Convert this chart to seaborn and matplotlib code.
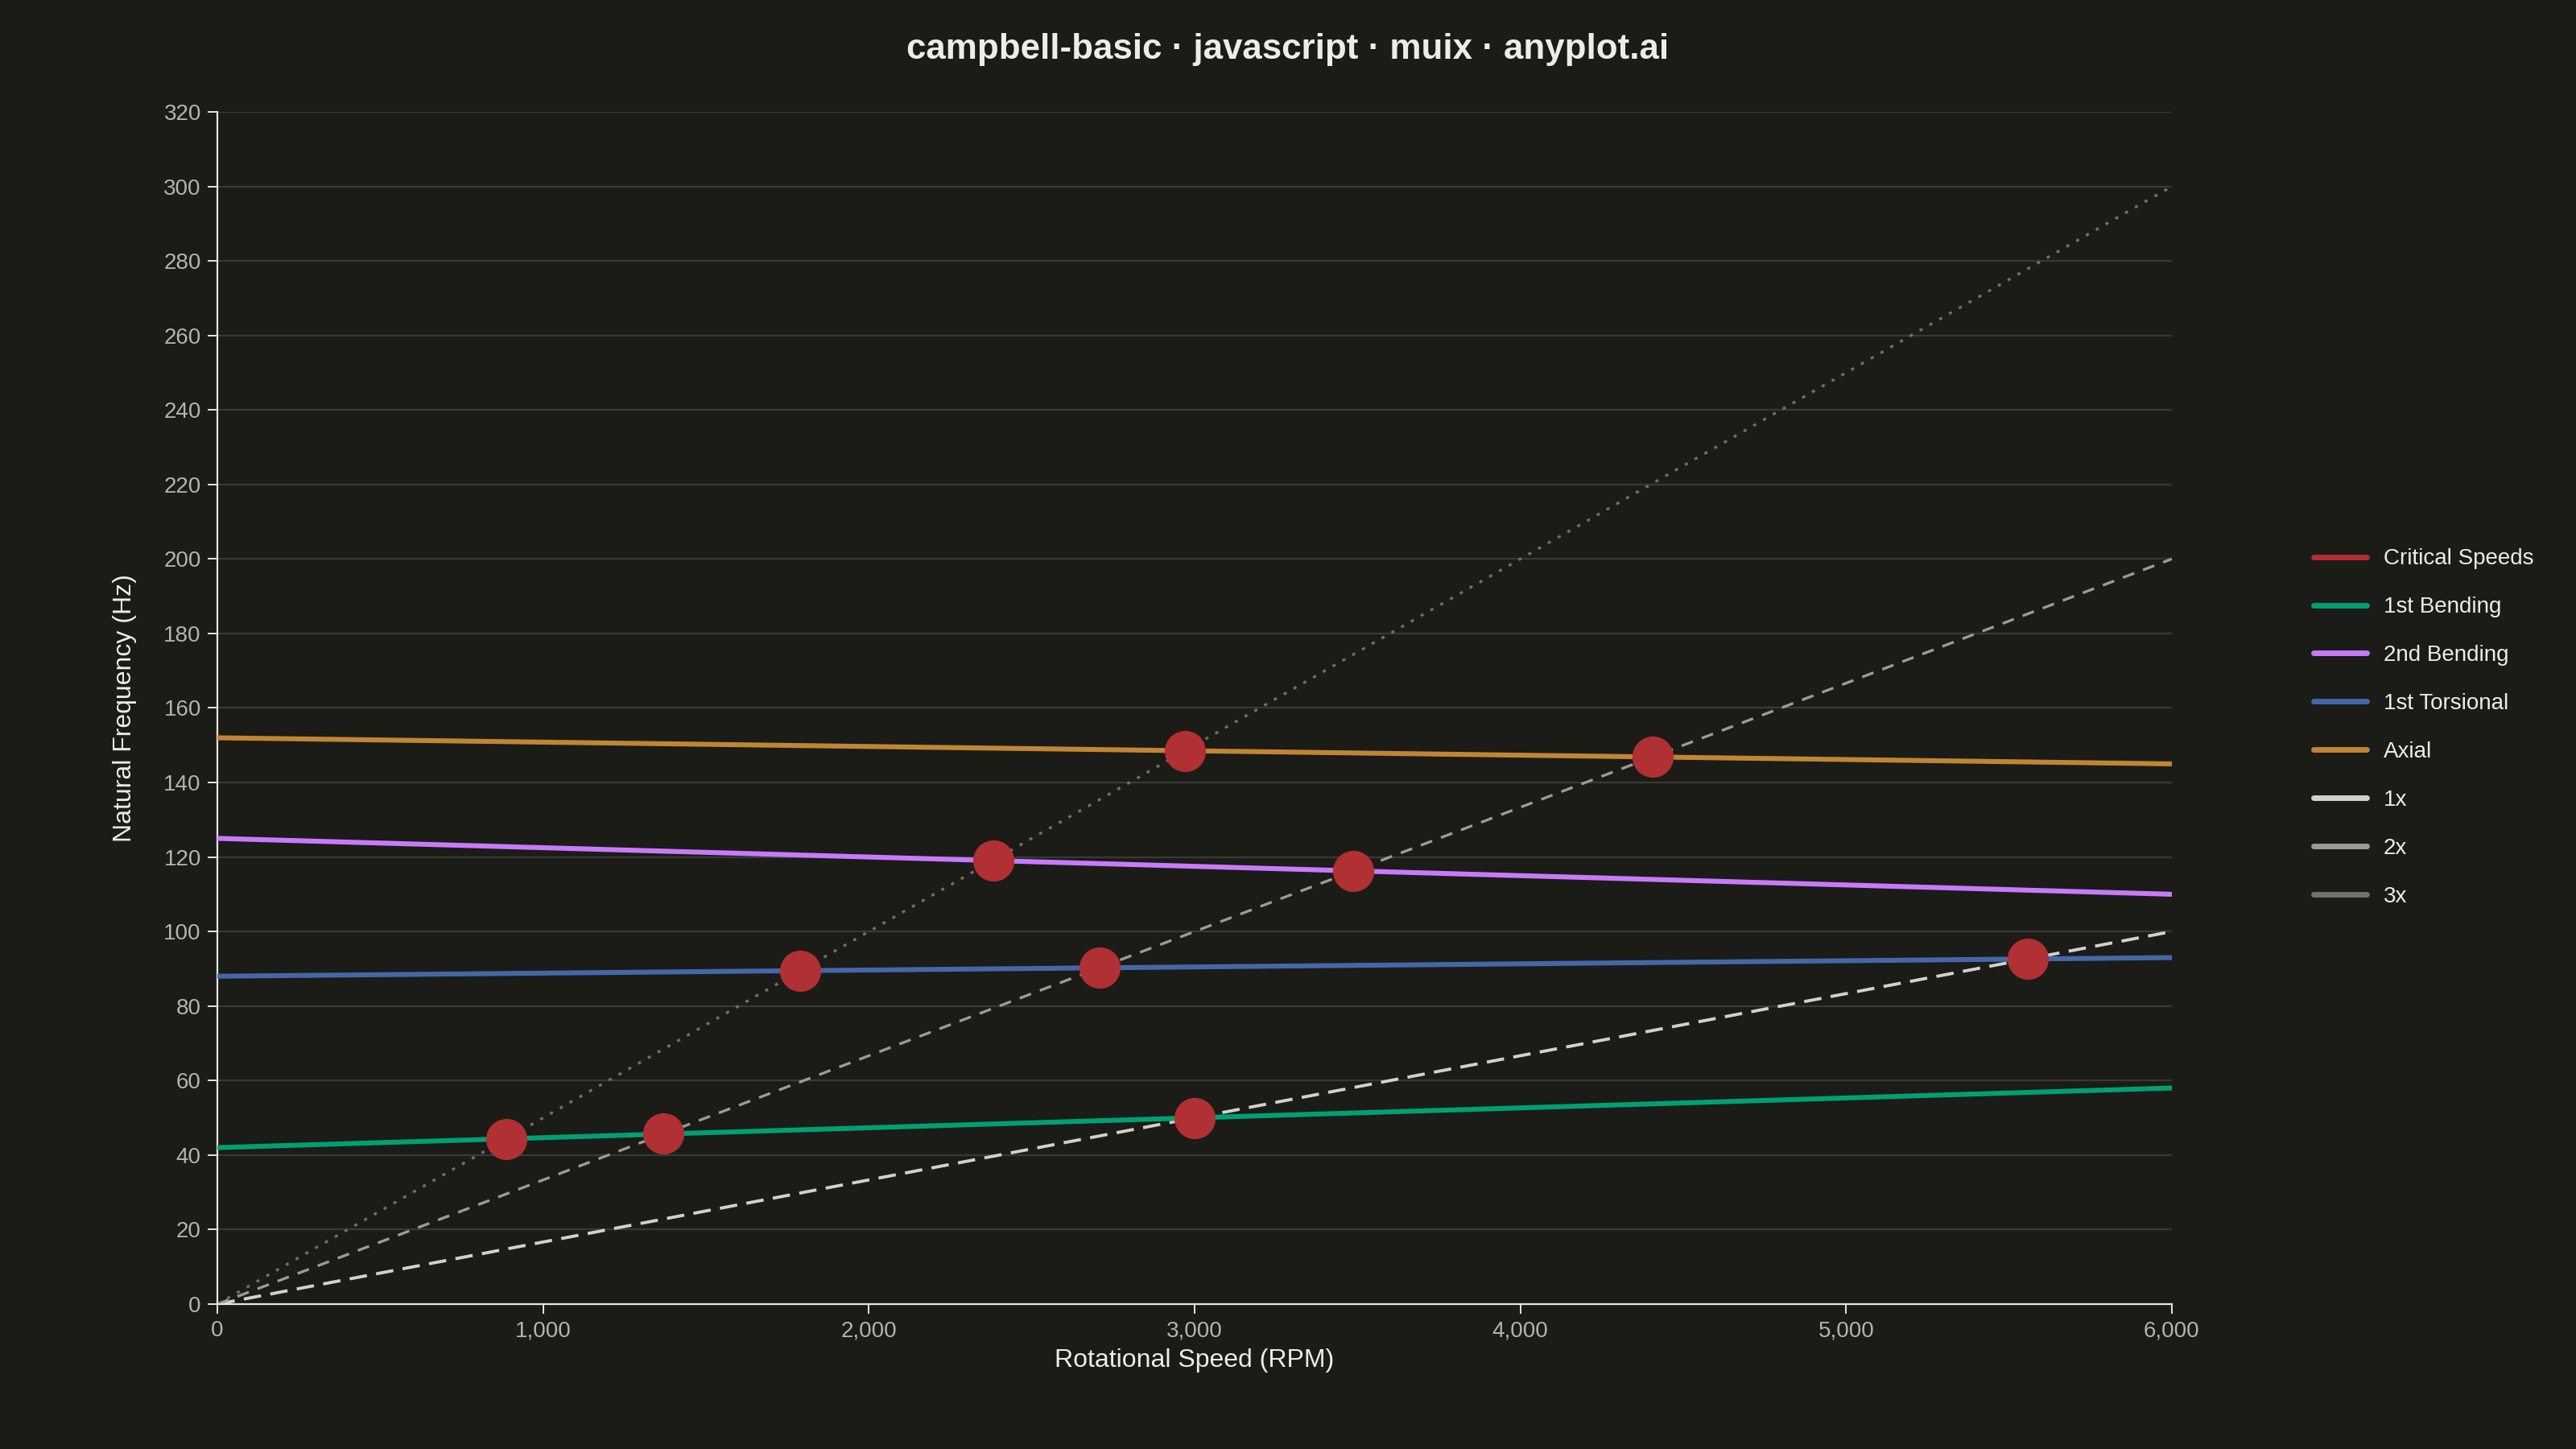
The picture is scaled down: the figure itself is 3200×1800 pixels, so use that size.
import pandas as pd
import matplotlib.pyplot as plt
import seaborn as sns
from matplotlib.lines import Line2D
from matplotlib.ticker import FuncFormatter

# natural frequency modes, read at 0 and 6000 RPM
rpm_ends = [0, 6000]
first_bending = [42, 58]
second_bending = [125, 110]
first_torsional = [88, 93]
axial = [152, 145]

# engine order lines
order_1x = [0, 100]
order_2x = [0, 200]
order_3x = [0, 300]

# critical speeds (intersections)
critical_rpm = [887, 1370, 3000, 1790, 2708, 5558, 2381, 3488, 2971, 4406]
critical_hz = [44.4, 45.7, 50.0, 89.5, 90.3, 92.6, 119.0, 116.3, 148.5, 146.9]

mode_names = ["1st Bending", "2nd Bending", "1st Torsional", "Axial"]
mode_values = [first_bending, second_bending, first_torsional, axial]
mode_colors = ["#00A074", "#C77BFA", "#4467A8", "#C08535"]
order_names = ["1x", "2x", "3x"]
order_values = [order_1x, order_2x, order_3x]
order_colors = ["#D2D2CC", "#9C9C97", "#71716C"]
critical_color = "#B03034"

BG = "#1B1B17"
GRID = "#3A3A35"
TEXT = "#EDEDE6"
TICK = "#B5B5AD"

sns.set_theme(style="dark")
plt.rcParams["font.family"] = ["Liberation Sans", "DejaVu Sans"]

modes_df = pd.DataFrame({
    "rpm": rpm_ends * len(mode_names),
    "hz": [v for vals in mode_values for v in vals],
    "mode": [n for n in mode_names for _ in rpm_ends],
})
crit_df = pd.DataFrame({"rpm": critical_rpm, "hz": critical_hz})

fig = plt.figure(figsize=(16, 9), dpi=200, facecolor=BG)
ax = fig.add_axes([0.0844, 0.1, 0.7587, 0.8228])
ax.set_facecolor(BG)

# order lines
order_styles = [(0, (5.6, 3.0)), (0, (4.5, 3.5)), (0, (1.2, 3.0))]
order_widths = [1.4, 1.2, 1.2]
for name, vals, col, ls, lw in zip(order_names, order_values, order_colors, order_styles, order_widths):
    sns.lineplot(x=rpm_ends, y=vals, ax=ax, color=col, linestyle=ls, linewidth=lw, zorder=2)

sns.lineplot(data=modes_df, x="rpm", y="hz", hue="mode", palette=dict(zip(mode_names, mode_colors)),
             linewidth=2.2, legend=False, ax=ax, zorder=3)

sns.scatterplot(data=crit_df, x="rpm", y="hz", color=critical_color, s=340, linewidth=0,
                ax=ax, zorder=4)

ax.set_xlim(0, 6000)
ax.set_ylim(0, 320)
ax.set_xticks(range(0, 6001, 1000))
ax.set_yticks(range(0, 321, 20))
ax.xaxis.set_major_formatter(FuncFormatter(lambda v, p: f"{int(v):,}"))

ax.grid(axis="y", color=GRID, linewidth=0.8)
ax.grid(axis="x", visible=False)
for side in ["top", "right"]:
    ax.spines[side].set_visible(False)
for side in ["left", "bottom"]:
    ax.spines[side].set_color("#E6E6E0")
    ax.spines[side].set_linewidth(0.8)
ax.tick_params(axis="both", which="major", colors="#E6E6E0", labelcolor=TICK, labelsize=10,
               length=4.3, width=0.7, direction="out", bottom=True, left=True, pad=3)

ax.set_xlabel("Rotational Speed (RPM)", color=TEXT, fontsize=11.5, labelpad=3)
ax.set_ylabel("Natural Frequency (Hz)", color=TEXT, fontsize=11.5, labelpad=12)

fig.suptitle("campbell-basic · javascript · muix · anyplot.ai", color=TEXT, fontsize=15.8,
             fontweight="bold", y=0.977)

handles = [Line2D([0], [0], color=critical_color, linewidth=2.5)]
handles += [Line2D([0], [0], color=c, linewidth=2.5) for c in mode_colors]
handles += [Line2D([0], [0], color=c, linewidth=2.5) for c in order_colors]
labels = ["Critical Speeds"] + mode_names + order_names
fig.legend(handles, labels, loc="center left", bbox_to_anchor=(0.898, 0.4978), frameon=False,
           fontsize=10, labelcolor=TEXT, handlelength=2.4, handletextpad=0.75, labelspacing=1.22,
           borderaxespad=0, borderpad=0)

fig.savefig("out.png", dpi=200, facecolor=BG)
